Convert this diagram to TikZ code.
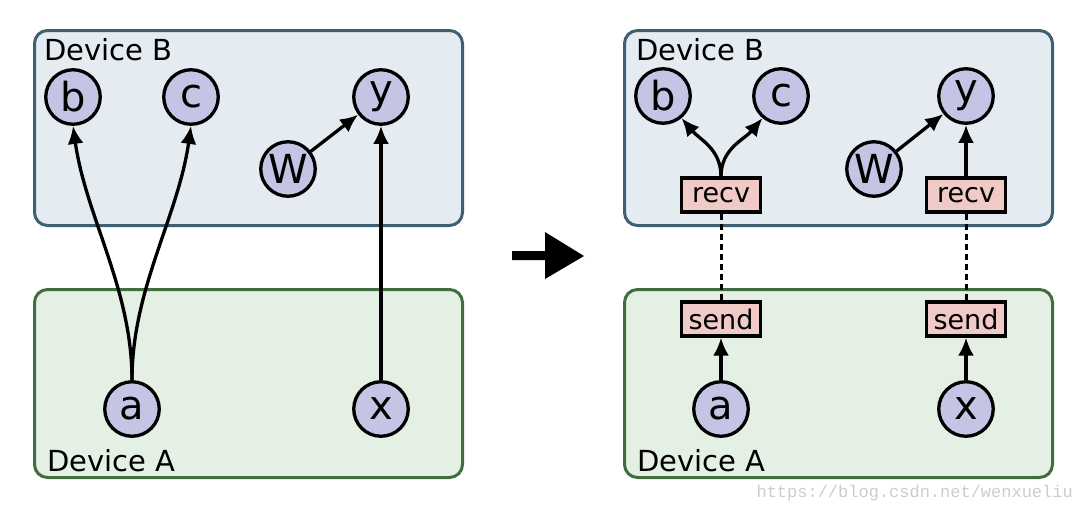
\documentclass[tikz,border=0pt]{standalone}
\usepackage{fontspec}
\setmainfont{DejaVu Sans}
\newfontfamily\wmfont{Liberation Mono}
\usetikzlibrary{arrows.meta}
\definecolor{nodefill}{RGB}{196,196,228}
\definecolor{bfill}{RGB}{228,235,241}
\definecolor{bdraw}{RGB}{62,96,114}
\definecolor{afill}{RGB}{229,240,228}
\definecolor{adraw}{RGB}{64,110,64}
\definecolor{opfill}{RGB}{240,202,199}
\begin{document}
\begin{tikzpicture}[x=1pt,y=-1pt,
  op/.style={circle,draw=black,line width=3.3pt,fill=nodefill,minimum size=54.5pt,inner sep=0pt,font=\fontsize{40}{40}\selectfont},
  devB/.style={draw=bdraw,fill=bfill,line width=3pt,rounded corners=13pt},
  devA/.style={draw=adraw,fill=afill,line width=3pt,rounded corners=13pt},
  lbl/.style={anchor=west,inner sep=0pt,font=\fontsize{29}{29}\selectfont},
  io/.style={rectangle,draw=black,line width=3.3pt,fill=opfill,minimum width=79pt,minimum height=34pt,inner sep=0pt,font=\fontsize{27}{27}\selectfont},
  edge/.style={line width=3.3pt,-{Latex[length=18pt,width=16pt]}},
  link/.style={line width=3pt,dashed,dash pattern=on 6pt off 4pt}
]
\useasboundingbox (0,0) rectangle (1084,512);
% left panel
\draw[devB] (34.5,30.5) rectangle (462.5,225.5);
\draw[devA] (34.5,289.5) rectangle (462.5,477.5);
\node[lbl] (lB) at (44,50) {Device B};
\node[lbl] (lA) at (47,461) {Device A};
\node[op] (b1) at (73,97) {b};
\node[op] (c1) at (191,97) {c};
\node[op] (y1) at (381,97) {y};
\node[op] (w1) at (288,169) {W};
\node[op] (a1) at (132,409) {a};
\node[op] (x1) at (381,409) {x};
\draw[edge] (a1.north) to[out=90,in=-82,looseness=0.9] (b1.south);
\draw[edge] (a1.north) to[out=90,in=-98,looseness=0.9] (c1.south);
\draw[edge] (x1) -- (y1);
\draw[edge] (w1) -- (y1);
% big arrow
\fill (512,251) -- (545,251) -- (545,232) -- (584,256) -- (545,279) -- (545,260) -- (512,260) -- cycle;
% right panel
\draw[devB] (624.5,30.5) rectangle (1052.5,225.5);
\draw[devA] (624.5,289.5) rectangle (1052.5,477.5);
\node[lbl] (rB) at (636,50) {Device B};
\node[lbl] (rA) at (637,461) {Device A};
\node[op] (b2) at (663,96) {b};
\node[op] (c2) at (781,96) {c};
\node[op] (y2) at (966,96) {y};
\node[op] (w2) at (874,169) {W};
\node[op] (a2) at (721,409) {a};
\node[op] (x2) at (966,409) {x};
\node[io] (r1) at (721,195) {recv};
\node[io] (r2) at (966,195) {recv};
\node[io] (s1) at (721,319) {send};
\node[io] (s2) at (966,319) {send};
\draw[edge] (r1.north) to[out=90,in=-50] (b2);
\draw[edge] (r1.north) to[out=90,in=-130] (c2);
\draw[edge] (r2) -- (y2);
\draw[edge] (w2) -- (y2);
\draw[edge] (a2) -- (s1);
\draw[edge] (x2) -- (s2);
\draw[link] (r1.south) -- (s1.north);
\draw[link] (r2.south) -- (s2.north);
% watermark
\node[anchor=east,inner sep=0pt,text=black!20,font=\wmfont\fontsize{17}{17}\selectfont] (wm) at (1073,493) {https://blog.csdn.net/wenxueliu};
\end{tikzpicture}
\end{document}
